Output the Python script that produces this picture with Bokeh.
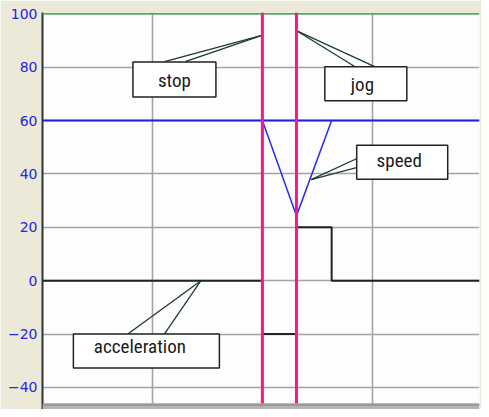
from bokeh.plotting import figure
from bokeh.models import FixedTicker, Span, BoxAnnotation
from bokeh.core.properties import value
from bokeh.embed import file_html
from bokeh.resources import INLINE

# ---- data ----
x_start, x_end = 0.0, 3.975
y_low, y_high = -46, 100.5
y_ticks = [-40, -20, 0, 20, 40, 60, 80, 100]
grid_x = [1, 2, 3]
grid_y = [-40, -20, 0, 20, 40, 60, 80]

speed_setpoint = 60
speed_x = [2.0, 2.31, 2.63]
speed_y = [60, 24.3, 60]

accel_x = [0.0, 2.0, 2.0, 2.31, 2.31, 2.63, 2.63, 3.975]
accel_y = [0, 0, -20, -20, 20, 20, 0, 0]

event_x = [2.0, 2.31]          # stop / jog markers

labels = ["stop", "jog", "speed", "acceleration"]
box_x = [1.200, 2.941, 3.272, 0.945]
box_y = [75.4, 73.8, 44.4, -26.3]
text_x = [1.200, 2.910, 3.245, 0.886]
text_y = [75.2, 73.6, 44.9, -24.6]
tip_x = [1.996, 2.319, 2.444, 1.441]
tip_y = [91.9, 93.5, 37.9, 0.0]
base1_x = [1.110, 2.847, 2.856, 0.779]
base1_y = [82.1, 80.1, 45.7, -19.9]
base2_x = [1.298, 3.026, 2.856, 1.110]
base2_y = [82.1, 80.1, 42.4, -19.9]

# frame extends a little below y_low to hold the window's bottom shadow
shadow_low = y_low - 2.25

# ---- figure ----
p = figure(width=481, height=409, x_range=(x_start, x_end), y_range=(shadow_low, y_high),
           output_backend="svg", toolbar_location=None,
           min_border_left=42, min_border_right=2, min_border_top=12, min_border_bottom=0,
           background_fill_color="#FDFDFD", border_fill_color="#ECE9D8",
           outline_line_color=None)

p.xaxis.visible = False
p.xgrid.ticker = FixedTicker(ticks=grid_x)
p.ygrid.ticker = FixedTicker(ticks=grid_y)
for g in (p.xgrid, p.ygrid):
    g.grid_line_color = "#A4A4A4"
    g.grid_line_width = 1.6

ax = p.yaxis[0]
ax.ticker = FixedTicker(ticks=y_ticks)
ax.major_tick_out = 0
ax.major_tick_in = 0
ax.minor_tick_out = 0
ax.minor_tick_in = 0
ax.axis_line_color = "#333333"
ax.axis_line_width = 2
ax.major_label_standoff = 5
ax.major_label_text_font = "DejaVu Sans"
ax.major_label_text_font_size = "14px"
ax.major_label_text_color = "#2323E6"

# top green border line at 100
p.add_layout(Span(location=100, dimension="width", line_color="#5FA55F", line_width=2))

# speed
p.line([x_start, x_end], [speed_setpoint, speed_setpoint], line_color="#2020E0", line_width=2)
p.line(speed_x, speed_y, line_color="#2A2AEA", line_width=1.5)

# acceleration
p.line(accel_x, accel_y, line_color="#222222", line_width=2)

# stop / jog event markers
for ex in event_x:
    p.add_layout(Span(location=ex, dimension="height", line_color="#FF148C", line_width=3))

# bottom window shadow
p.add_layout(BoxAnnotation(bottom=shadow_low, top=y_low, fill_color="#B4B4B4", fill_alpha=1.0,
                           line_color=None))
p.add_layout(BoxAnnotation(bottom=y_low - 0.9, top=y_low, fill_color="#9A9A9A", fill_alpha=1.0,
                           line_color=None))

# callouts
p.segment(x0=base1_x, y0=base1_y, x1=tip_x, y1=tip_y, line_color="#1E3A30", line_width=1.3)
p.segment(x0=base2_x, y0=base2_y, x1=tip_x, y1=tip_y, line_color="#1E3A30", line_width=1.3)
p.rect(x=box_x, y=box_y, width=[83, 82, 91, 146], height=[35, 34, 34, 34],
       width_units="screen", height_units="screen",
       fill_color="#FFFFFF", line_color="#222222", line_width=1.5)
p.text(x=text_x, y=text_y, text=labels, text_align="center", text_baseline="middle",
       text_font=value("'Roboto Condensed', 'DejaVu Sans Condensed', 'Liberation Sans Narrow', Roboto"),
       text_font_size="19px", text_color="#1A1A1A")

open("out.html", "w").write(file_html(p, INLINE))
